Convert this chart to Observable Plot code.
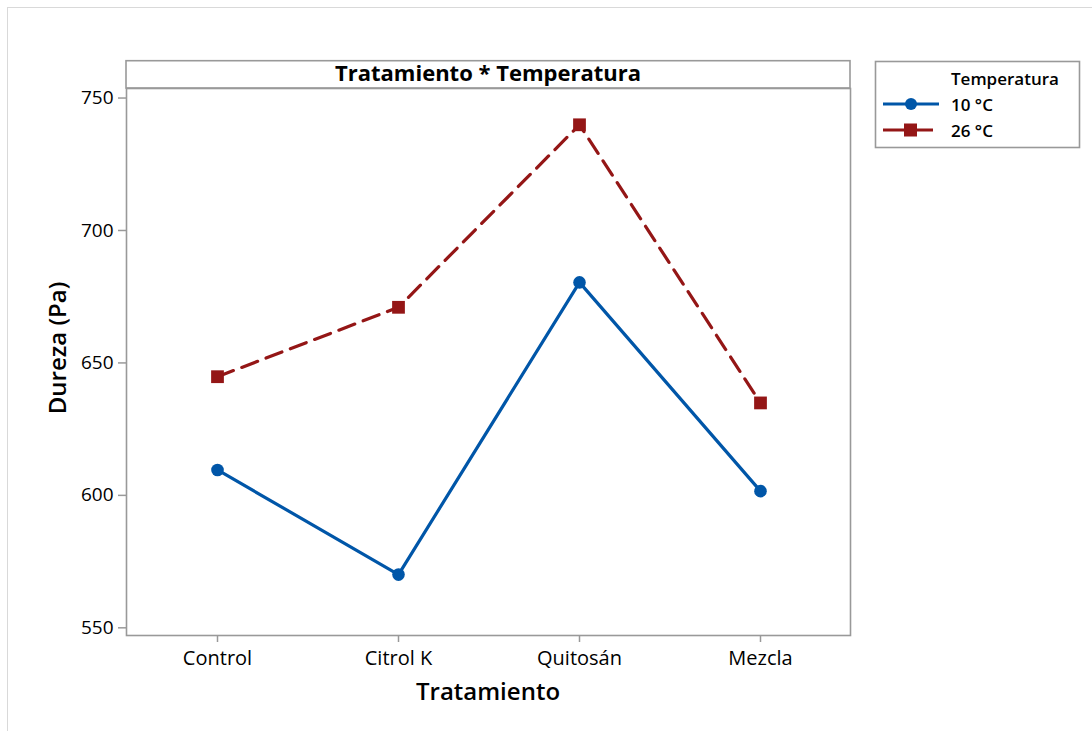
<!DOCTYPE html>
<html>
<head>
<meta charset="utf-8">
<script src="https://cdn.jsdelivr.net/npm/d3@7"></script>
<script src="https://cdn.jsdelivr.net/npm/@observablehq/plot@0.6"></script>
<style>
  html, body { margin: 0; padding: 0; background: #fff; }
  #chart svg { display: block; }
</style>
</head>
<body>
<div id="chart"></div>
<script>
const categories = ["Control", "Citrol K", "Quitosán", "Mezcla"];
const series = ["10 °C", "26 °C"];
const values10 = [609.6, 570.1, 680.4, 601.6];
const values26 = [644.8, 671.0, 739.9, 634.9];
const yTicks = [550, 600, 650, 700, 750];
const chartTitle = "Tratamiento * Temperatura";
const xLabel = "Tratamiento";
const yLabel = "Dureza (Pa)";
const legendTitle = "Temperatura";

const colors = ["#0056a8", "#941616"];
const font = "'Open Sans', 'Noto Sans', sans-serif";

const rows = [];
categories.forEach((c, i) => {
  rows.push({tratamiento: c, temp: series[0], dureza: values10[i]});
  rows.push({tratamiento: c, temp: series[1], dureza: values26[i]});
});
const s10 = rows.filter(d => d.temp === series[0]);
const s26 = rows.filter(d => d.temp === series[1]);

const W = 1092, H = 731;
const mL = 126, mR = 242, mT = 88, mB = 96;

const chart = Plot.plot({
  width: W,
  height: H,
  marginLeft: mL,
  marginRight: mR,
  marginTop: mT,
  marginBottom: mB,
  style: {fontFamily: font, fontSize: "19px", color: "#000", background: "#fff"},
  x: {type: "point", domain: categories, padding: 0.5, label: null},
  y: {domain: [547.1, 753.6], label: null},
  marks: [
    Plot.frame({stroke: "#999", strokeWidth: 1.6}),
    Plot.axisX({tickSize: 7, tickPadding: 8, stroke: "#999", strokeWidth: 1.5, fontSize: 20, label: null}),
    Plot.axisY({ticks: yTicks, tickSize: 8, tickPadding: 5, stroke: "#999", strokeWidth: 1.5, fontSize: 19, label: null}),
    Plot.line(s10, {x: "tratamiento", y: "dureza", stroke: colors[0], strokeWidth: 3.2}),
    Plot.line(s26, {x: "tratamiento", y: "dureza", stroke: colors[1], strokeWidth: 3.2, strokeDasharray: "17,9"}),
    Plot.dot(s10, {x: "tratamiento", y: "dureza", fill: colors[0], symbol: "circle", r: 6.3}),
    Plot.dot(s26, {x: "tratamiento", y: "dureza", fill: colors[1], symbol: "square", r: 7.2})
  ]
});

document.getElementById("chart").appendChild(chart);

const svg = d3.select(chart);
// outer light border
svg.append("rect").attr("x", 7.5).attr("y", 7.5).attr("width", W + 20).attr("height", H + 20)
  .attr("fill", "none").attr("stroke", "#d9d9d9").attr("stroke-width", 1);
// title band
svg.append("rect").attr("x", mL).attr("y", 60.7).attr("width", W - mL - mR).attr("height", mT - 60.7)
  .attr("fill", "none").attr("stroke", "#999").attr("stroke-width", 1.6);
svg.append("text").attr("x", mL + (W - mL - mR) / 2).attr("y", 81)
  .attr("text-anchor", "middle").attr("font-family", font).attr("font-weight", 700)
  .attr("font-size", 22).attr("fill", "#000").text(chartTitle);
// axis labels
svg.append("text").attr("x", mL + (W - mL - mR) / 2).attr("y", 700)
  .attr("text-anchor", "middle").attr("font-family", font).attr("font-weight", 600)
  .attr("font-size", 24).attr("fill", "#000").text(xLabel);
svg.append("text").attr("transform", "translate(66,348) rotate(-90)")
  .attr("text-anchor", "middle").attr("font-family", font).attr("font-weight", 600)
  .attr("font-size", 24).attr("fill", "#000").text(yLabel);
// legend
const lg = svg.append("g");
lg.append("rect").attr("x", 875.5).attr("y", 61.5).attr("width", 204).attr("height", 86)
  .attr("fill", "#fff").attr("stroke", "#999").attr("stroke-width", 1.6);
lg.append("text").attr("x", 951).attr("y", 85).attr("text-anchor", "start")
  .attr("font-family", font).attr("font-weight", 600)
  .attr("font-size", 17).attr("fill", "#000").text(legendTitle);
series.forEach((s, i) => {
  const y = 104 + i * 26;
  lg.append("line").attr("x1", 883).attr("x2", i === 0 ? 939 : 933).attr("y1", y).attr("y2", y)
    .attr("stroke", colors[i]).attr("stroke-width", 3.2);
  if (i === 0) {
    lg.append("circle").attr("cx", 911).attr("cy", y).attr("r", 6).attr("fill", colors[i]);
  } else {
    lg.append("rect").attr("x", 904).attr("y", y - 6.5).attr("width", 13).attr("height", 13).attr("fill", colors[i]);
  }
  lg.append("text").attr("x", 951).attr("y", y + 7).attr("text-anchor", "start")
    .attr("font-family", font).attr("font-weight", 600)
    .attr("font-size", 17).attr("fill", "#000").text(s);
});
</script>
</body>
</html>
